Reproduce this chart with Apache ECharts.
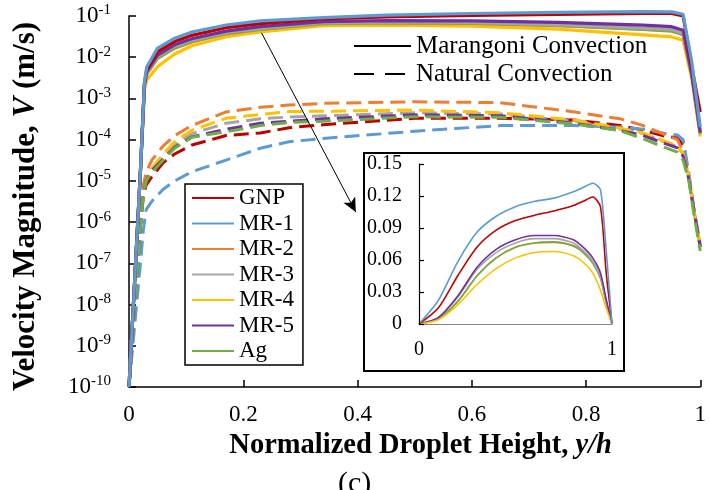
<!DOCTYPE html>
<html>
<head>
<meta charset="utf-8">
<script src="https://cdn.jsdelivr.net/npm/echarts@6/dist/echarts.min.js"></script>
<style>
  html, body { margin: 0; padding: 0; background: #fff; }
  #chart { width: 709px; height: 490px; }
</style>
</head>
<body>
<div id="chart"></div>
<script>
// Velocity magnitude vs normalized droplet height, Marangoni (solid) vs natural (dashed)
const NAMES = ["GNP", "MR-1", "MR-2", "MR-3", "MR-4", "MR-5", "Ag"];
const COLORS = ["#C00000", "#5B9BD5", "#ED7D31", "#A5A5A5", "#FFC000", "#7030A0", "#70AD47"];

// Marangoni convection (solid), log axis
const X_SOLID = [0, 0.01, 0.02, 0.027, 0.031, 0.05, 0.08, 0.11, 0.17, 0.23, 0.34, 0.45, 0.6, 0.75, 0.9, 0.95, 0.97, 0.985, 1.0];
const MAR_GNP = [1e-10, 4e-8, 1.7e-5, 2.3e-3, 5e-3, 0.0136, 0.024, 0.034, 0.052, 0.065, 0.085, 0.095, 0.103, 0.109, 0.116, 0.115, 0.1, 0.006, 4.7e-4];
const MAR_MR1 = [1e-10, 4e-8, 1.7e-5, 2.5e-3, 5.8e-3, 0.0167, 0.029, 0.041, 0.0605, 0.076, 0.091, 0.105, 0.115, 0.122, 0.128, 0.126, 0.11, 0.008, 2e-4];
const MAR_MR2 = [1e-10, 4e-8, 1.7e-5, 2e-3, 3.9e-3, 0.0094, 0.0166, 0.0235, 0.037, 0.047, 0.065, 0.068, 0.066, 0.058, 0.047, 0.043, 0.035, 0.004, 1.4e-4];
const MAR_MR3 = [1e-10, 4e-8, 1.7e-5, 2e-3, 4.2e-3, 0.0105, 0.0185, 0.026, 0.04, 0.051, 0.069, 0.072, 0.07, 0.062, 0.051, 0.047, 0.038, 0.004, 1.5e-4];
const MAR_MR4 = [1e-10, 4e-8, 1.5e-5, 1.6e-3, 2.8e-3, 0.0059, 0.012, 0.019, 0.0315, 0.041, 0.058, 0.06, 0.057, 0.048, 0.035, 0.031, 0.026, 0.003, 1.2e-4];
const MAR_MR5 = [1e-10, 4e-8, 1.7e-5, 2.1e-3, 4.5e-3, 0.0113, 0.02, 0.028, 0.043, 0.055, 0.073, 0.077, 0.076, 0.07, 0.06, 0.055, 0.045, 0.004, 1.5e-4];
const MAR_AG  = [1e-10, 4e-8, 1.7e-5, 2e-3, 4e-3, 0.0096, 0.017, 0.024, 0.038, 0.048, 0.066, 0.069, 0.067, 0.059, 0.048, 0.044, 0.036, 0.004, 1.4e-4];

// Natural convection (dashed)
const X_DASH = [0, 0.01, 0.02, 0.025, 0.03, 0.04, 0.06, 0.08, 0.11, 0.17, 0.23, 0.28, 0.34, 0.5, 0.65, 0.78, 0.86, 0.9, 0.94, 0.96, 0.97, 0.98, 0.99, 1.0];
const NAT_GNP = [1e-10, 1e-8, 7.9e-7, 4e-6, 7.9e-6, 1.26e-5, 2.8e-5, 4.5e-5, 7.4e-5, 1.26e-4, 1.45e-4, 1.95e-4, 2.3e-4, 3.3e-4, 3.3e-4, 3e-4, 2.2e-4, 1.7e-4, 1.2e-4, 1.1e-4, 7.4e-5, 1.26e-5, 1.6e-6, 2.5e-7];
const NAT_MR1 = [1e-10, 3.2e-9, 1e-7, 6.3e-7, 2e-6, 3.2e-6, 6.3e-6, 1e-5, 1.66e-5, 3.2e-5, 6.2e-5, 8.9e-5, 1.07e-4, 1.6e-4, 2.2e-4, 2.2e-4, 2e-4, 1.8e-4, 1.4e-4, 1.3e-4, 1e-4, 1.6e-5, 1.6e-6, 2.5e-7];
const NAT_MR2 = [1e-10, 1e-8, 1e-6, 7.9e-6, 1.6e-5, 3.2e-5, 7.1e-5, 1.26e-4, 2.2e-4, 4.7e-4, 6.1e-4, 6.9e-4, 7.6e-4, 8.3e-4, 7.9e-4, 4.7e-4, 3.2e-4, 2.2e-4, 1.3e-4, 1e-4, 5e-5, 1.26e-5, 1.6e-6, 3.2e-7];
const NAT_MR3 = [1e-10, 1e-8, 7.9e-7, 5e-6, 1e-5, 2e-5, 4e-5, 7.5e-5, 1.4e-4, 2.5e-4, 3.2e-4, 3.55e-4, 3.8e-4, 4.5e-4, 4.2e-4, 2.8e-4, 1.8e-4, 1.4e-4, 8.5e-5, 6.8e-5, 4.5e-5, 1.26e-5, 1.6e-6, 2.5e-7];
const NAT_MR4 = [1e-10, 1e-8, 7.9e-7, 5e-6, 1e-5, 2e-5, 4.5e-5, 8.9e-5, 1.7e-4, 3.3e-4, 4.1e-4, 4.8e-4, 4.9e-4, 5.2e-4, 4.5e-4, 3e-4, 1.9e-4, 1.45e-4, 8.9e-5, 7.1e-5, 4.5e-5, 1.26e-5, 1.6e-6, 2.5e-7];
const NAT_MR5 = [1e-10, 1e-8, 7.9e-7, 5e-6, 1e-5, 1.8e-5, 3.4e-5, 6.5e-5, 1.17e-4, 1.8e-4, 2.5e-4, 2.8e-4, 3.2e-4, 4e-4, 3.8e-4, 2.5e-4, 1.66e-4, 1.26e-4, 7.9e-5, 6.3e-5, 4e-5, 1.1e-5, 1.6e-6, 2.5e-7];
const NAT_AG  = [1e-10, 1e-8, 7.9e-7, 5e-6, 1e-5, 1.6e-5, 3.2e-5, 6.2e-5, 1.15e-4, 1.55e-4, 2.2e-4, 2.6e-4, 2.8e-4, 3.6e-4, 3.5e-4, 2.4e-4, 1.66e-4, 1.05e-4, 6.3e-5, 5e-5, 3.2e-5, 1e-5, 1.26e-6, 2e-7];

// inset, linear scale (Marangoni)
const X_INSET = [0, 0.1, 0.2, 0.3, 0.4, 0.5, 0.6, 0.7, 0.8, 0.85, 0.9, 0.94, 0.97, 1.0];
const IN_GNP = [0, 0.015, 0.045, 0.072, 0.088, 0.097, 0.102, 0.106, 0.111, 0.115, 0.119, 0.11, 0.048, 0];
const IN_MR1 = [0, 0.022, 0.058, 0.086, 0.101, 0.110, 0.115, 0.118, 0.124, 0.128, 0.132, 0.126, 0.069, 0];
const IN_MR2 = [0, 0.005, 0.021, 0.045, 0.062, 0.072, 0.076, 0.0765, 0.0735, 0.068, 0.058, 0.044, 0.021, 0];
const IN_MR3 = [0, 0.006, 0.025, 0.051, 0.067, 0.076, 0.08, 0.08, 0.076, 0.069, 0.059, 0.045, 0.021, 0];
const IN_MR4 = [0, 0.004, 0.018, 0.037, 0.052, 0.062, 0.067, 0.068, 0.064, 0.058, 0.048, 0.032, 0.015, 0];
const IN_MR5 = [0, 0.006, 0.026, 0.053, 0.07, 0.079, 0.083, 0.083, 0.079, 0.072, 0.062, 0.048, 0.023, 0];
const IN_AG  = [0, 0.005, 0.021, 0.045, 0.062, 0.072, 0.076, 0.077, 0.073, 0.067, 0.057, 0.043, 0.02, 0];

const MARANGONI = [MAR_GNP, MAR_MR1, MAR_MR2, MAR_MR3, MAR_MR4, MAR_MR5, MAR_AG];
const NATURAL = [NAT_GNP, NAT_MR1, NAT_MR2, NAT_MR3, NAT_MR4, NAT_MR5, NAT_AG];
const INSET = [IN_GNP, IN_MR1, IN_MR2, IN_MR3, IN_MR4, IN_MR5, IN_AG];

// arrow pointing from the top curves to the inset (data coords)
const ARROW_FROM = [0.232, 0.039];
const ARROW_TO = [0.397, 1.75e-6];

const FONT = "Liberation Serif";
const pairs = (xs, ys) => xs.map((x, i) => [x, ys[i]]);

const series = [];
// solid series first so the legend picks their style; drawn above dashed via z
[4, 2, 6, 3, 5, 0, 1].forEach((k) => {
  series.push({
    name: NAMES[k], type: "line", data: pairs(X_SOLID, MARANGONI[k]),
    showSymbol: false, symbol: "none", clip: false, z: 3,
    color: COLORS[k],
    lineStyle: { color: COLORS[k], width: 3.2 },
  });
});
NAMES.forEach((name, k) => {
  series.push({
    name: name + " (natural)", type: "line", data: pairs(X_DASH, NATURAL[k]),
    showSymbol: false, symbol: "none", clip: false, z: 2,
    lineStyle: { color: COLORS[k], width: 3, type: [15, 7] },
  });
});
// dummy series for the line-style legend
series.push({
  name: "Marangoni Convection", type: "line", data: [], symbol: "none", color: "#000",
  lineStyle: { color: "#000", width: 3 },
});
series.push({
  name: "Natural Convection", type: "line", data: [], symbol: "none", color: "#000",
  lineStyle: { color: "#000", width: 3, type: [20, 11] },
});
// arrow
series.push({
  type: "line", data: [], silent: true,
  markLine: {
    silent: true, symbol: ["none", "arrow"], symbolSize: [10, 14],
    label: { show: false },
    lineStyle: { color: "#000", width: 1, type: "solid" },
    data: [[{ coord: ARROW_FROM }, { coord: ARROW_TO }]],
  },
});
// inset lines
[2, 6, 3, 5, 4, 0, 1].forEach((k) => {
  series.push({
    name: NAMES[k] + " inset", type: "line", xAxisIndex: 1, yAxisIndex: 1,
    data: pairs(X_INSET, INSET[k]), showSymbol: false, symbol: "none", smooth: 0.25,
    z: 5, lineStyle: { color: COLORS[k], width: 1.6 },
  });
});

const chart = echarts.init(document.getElementById("chart"));
chart.setOption({
  animation: false,
  backgroundColor: "#fff",
  textStyle: { fontFamily: FONT, color: "#000" },
  title: {
    text: "(c)", left: 333, top: 464,
    textStyle: { fontFamily: FONT, fontSize: 30, fontWeight: "normal", color: "#000" },
  },
  grid: [
    { left: 129, right: 6, top: 16, bottom: 103 },
    { left: 419, right: 97, top: 164, bottom: 166 },
  ],
  legend: [
    {
      data: NAMES, orient: "vertical", left: 185, top: 184,
      itemWidth: 42, itemHeight: 12, itemGap: 1.5,
      padding: [2, 9, 2, 6],
      itemStyle: { opacity: 0 },
      borderColor: "#000", borderWidth: 1.5, backgroundColor: "#fff",
      textStyle: { fontFamily: FONT, fontSize: 23, lineHeight: 24, color: "#000" },
      selectedMode: false, z: 10,
    },
    {
      data: ["Marangoni Convection", "Natural Convection"], orient: "vertical",
      left: 348, top: 28, itemWidth: 57, itemHeight: 14, itemGap: 2,
      itemStyle: { opacity: 0 },
      textStyle: { fontFamily: FONT, fontSize: 25, lineHeight: 26, color: "#000" },
      selectedMode: false,
    },
  ],
  graphic: [
    {
      type: "rect", left: 363, top: 152, z: 1,
      shape: { width: 260, height: 218 },
      style: { fill: "#fff", stroke: "#000", lineWidth: 2 },
    },
  ],
  xAxis: [
    {
      type: "value", min: 0, max: 1, interval: 0.2, gridIndex: 0,
      name: "Normalized Droplet Height, {i|y/h}", nameLocation: "middle", nameGap: 33,
      nameTextStyle: {
        fontFamily: FONT, fontSize: 28.5, fontWeight: "bold", color: "#000",
        padding: [0, 0, 0, 12],
        rich: { i: { fontFamily: FONT, fontSize: 28.5, fontWeight: "bold", fontStyle: "italic", color: "#000" } },
      },
      axisLine: { lineStyle: { color: "#000", width: 1.5 } },
      axisTick: { inside: true, length: 7, lineStyle: { color: "#000", width: 1.5 } },
      axisLabel: { fontFamily: FONT, fontSize: 23, color: "#000", margin: 16 },
      splitLine: { show: false },
    },
    {
      type: "value", min: 0, max: 1, interval: 1, gridIndex: 1, z: 6,
      axisLine: { lineStyle: { color: "#888", width: 1 } },
      axisTick: { show: false },
      axisLabel: { fontFamily: FONT, fontSize: 20, color: "#000", margin: 16 },
      splitLine: { show: false },
    },
  ],
  yAxis: [
    {
      type: "log", logBase: 10, min: 1e-10, max: 1e-1, splitNumber: 9, gridIndex: 0,
      name: "Velocity Magnitude, {i|V} (m/s)", nameLocation: "middle", nameGap: 88,
      nameTextStyle: {
        fontFamily: FONT, fontSize: 31, fontWeight: "bold", color: "#000",
        padding: [0, 10, 0, 0],
        rich: { i: { fontFamily: FONT, fontSize: 31, fontWeight: "bold", fontStyle: "italic", color: "#000" } },
      },
      axisLine: { show: true, lineStyle: { color: "#000", width: 1.5 } },
      axisTick: { inside: true, length: 7, lineStyle: { color: "#000", width: 1.5 } },
      axisLabel: {
        margin: 18,
        formatter: (v) => "{b|10}{s|" + Math.round(Math.log10(v)) + "}",
        rich: {
          b: { fontFamily: FONT, fontSize: 23, color: "#000", lineHeight: 26 },
          s: { fontFamily: FONT, fontSize: 15, color: "#000", lineHeight: 26, verticalAlign: "top" },
        },
      },
      splitLine: { show: false },
    },
    {
      type: "value", min: 0, max: 0.15, interval: 0.03, gridIndex: 1, z: 6,
      axisLine: { show: true, lineStyle: { color: "#000", width: 1.2 } },
      axisTick: { inside: true, length: 5, lineStyle: { color: "#000", width: 1.2 } },
      axisLabel: {
        fontFamily: FONT, fontSize: 20, color: "#000", margin: 17,
        formatter: (v) => (v === 0 ? "0" : v.toFixed(2)),
      },
      splitLine: { show: false },
    },
  ],
  series,
});
</script>
</body>
</html>
